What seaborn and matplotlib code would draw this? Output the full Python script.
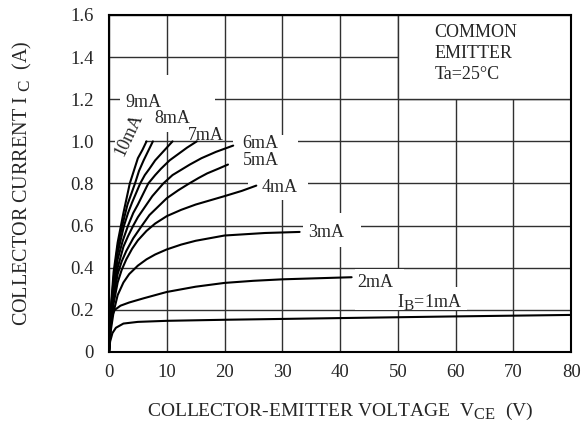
import numpy as np
import pandas as pd
import matplotlib
matplotlib.use('Agg')
import matplotlib.pyplot as plt
import matplotlib._mathtext as mathtext_internal
from matplotlib.patches import Rectangle
import seaborn as sns

# subscripts in the original are almost full size
mathtext_internal.SHRINK_FACTOR = 0.85

# curve data: V_CE (V) vs I_C (A) for each base current
vce_1ma = [0, 0.2, 0.6, 1.2, 2.5, 5, 10, 20, 40, 60, 80]
ic_1ma = [0, 0.05, 0.09, 0.115, 0.135, 0.143, 0.148, 0.153, 0.161, 0.169, 0.176]
vce_2ma = [0, 0.2, 0.5, 1.0, 2, 3.5, 6, 10, 15, 20, 25, 30, 36, 42]
ic_2ma = [0, 0.11, 0.17, 0.2, 0.22, 0.235, 0.255, 0.285, 0.31, 0.328, 0.338, 0.345, 0.35, 0.355]
vce_3ma = [0, 0.3, 0.8, 1.5, 2.5, 3.5, 5, 6.5, 8, 10, 12.5, 15, 20, 27, 33]
ic_3ma = [0, 0.1, 0.19, 0.27, 0.33, 0.37, 0.41, 0.44, 0.463, 0.487, 0.51, 0.528, 0.553, 0.565, 0.57]
vce_4ma = [0, 0.3, 0.8, 1.5, 2.2, 3, 4, 5, 6.5, 8, 10, 12.5, 15, 17.5, 20, 23, 25.5]
ic_4ma = [0, 0.12, 0.23, 0.33, 0.39, 0.44, 0.49, 0.53, 0.575, 0.61, 0.645, 0.675, 0.7, 0.72, 0.74, 0.765, 0.79]
vce_5ma = [0, 0.3, 0.8, 1.5, 2.2, 3, 4.2, 5.7, 7, 8.5, 10, 12, 13.7, 15.5, 17, 19, 20.6]
ic_5ma = [0, 0.14, 0.26, 0.37, 0.43, 0.48, 0.54, 0.6, 0.65, 0.69, 0.73, 0.768, 0.797, 0.826, 0.848, 0.871, 0.89]
vce_6ma = [0, 0.3, 0.8, 1.5, 2.5, 3.3, 4.2, 5, 6, 7.5, 9.4, 11, 12.5, 14, 16, 18.5, 21.5]
ic_6ma = [0, 0.15, 0.28, 0.4, 0.5, 0.55, 0.6, 0.64, 0.68, 0.74, 0.8, 0.84, 0.865, 0.89, 0.92, 0.95, 0.98]
vce_7ma = [0, 0.3, 0.8, 1.5, 2.4, 3.3, 4.2, 5, 6.8, 8, 9, 10.5, 12, 13.5, 15.2]
ic_7ma = [0, 0.17, 0.31, 0.44, 0.53, 0.6, 0.66, 0.7, 0.8, 0.84, 0.87, 0.91, 0.94, 0.97, 1.0]
vce_8ma = [0, 0.3, 0.8, 1.5, 2.6, 3.3, 4, 5.4, 6.2, 7, 8, 9, 10, 11]
ic_8ma = [0, 0.18, 0.33, 0.47, 0.6, 0.66, 0.71, 0.8, 0.84, 0.87, 0.91, 0.94, 0.97, 1.0]
vce_9ma = [0, 0.3, 0.8, 1.5, 2.3, 3.2, 4.5, 5.2, 6, 6.8, 7.6]
ic_9ma = [0, 0.19, 0.35, 0.5, 0.6, 0.7, 0.8, 0.86, 0.91, 0.955, 1.0]
vce_10ma = [0, 0.3, 0.8, 1.5, 2.5, 3.6, 4.3, 5, 5.8, 6.5]
ic_10ma = [0, 0.2, 0.38, 0.52, 0.66, 0.8, 0.86, 0.92, 0.96, 1.0]

x_ticks = [0, 10, 20, 30, 40, 50, 60, 70, 80]
x_labels = ['0', '10', '20', '30', '40', '50', '60', '70', '80']
y_ticks = [0, 0.2, 0.4, 0.6, 0.8, 1.0, 1.2, 1.4, 1.6]
y_labels = ['0', '0.2', '0.4', '0.6', '0.8', '1.0', '1.2', '1.4', '1.6']

curves = {
    '1mA': (vce_1ma, ic_1ma), '2mA': (vce_2ma, ic_2ma), '3mA': (vce_3ma, ic_3ma),
    '4mA': (vce_4ma, ic_4ma), '5mA': (vce_5ma, ic_5ma), '6mA': (vce_6ma, ic_6ma),
    '7mA': (vce_7ma, ic_7ma), '8mA': (vce_8ma, ic_8ma), '9mA': (vce_9ma, ic_9ma),
    '10mA': (vce_10ma, ic_10ma),
}
df = pd.concat([pd.DataFrame({'V': v, 'I': i, 'curve': k}) for k, (v, i) in curves.items()],
               ignore_index=True)

sns.set_style('white')
plt.rcParams['font.family'] = ['Liberation Serif', 'DejaVu Serif']
plt.rcParams['mathtext.fontset'] = 'custom'
plt.rcParams['mathtext.rm'] = 'Liberation Serif'

fig = plt.figure(figsize=(5.85, 4.45), dpi=100)
ax = fig.add_axes([0.1863, 0.209, 0.79, 0.7573])

grid_col = '#303030'
ax.set_axisbelow(True)
ax.grid(True, color=grid_col, lw=1.0, zorder=0.5)

sns.lineplot(data=df, x='V', y='I', units='curve', estimator=None, sort=False,
             color='black', lw=1.5, ax=ax, zorder=3)

# white areas behind the labels (the grid is broken there)
white_boxes = [(1.9, 1.045, 16.5, 0.27), (1.0, 0.98, 5.2, 0.07),
               (21.5, 0.84, 11.2, 0.19), (24.0, 0.72, 10.5, 0.12),
               (33.5, 0.50, 10.2, 0.16), (42.5, 0.2, 8.5, 0.195), (49.0, 0.2, 13.0, 0.11)]
for x0, y0, w, h in white_boxes:
    ax.add_patch(Rectangle((x0, y0), w, h, facecolor='white', edgecolor='none', zorder=1))
ax.add_patch(Rectangle((50, 1.2), 30, 0.4, facecolor='white', edgecolor=grid_col, lw=1.0, zorder=1))

fs = 13
ax.text(2.9, 1.163, '9mA', fontsize=fs, va='baseline', zorder=4)
ax.text(7.8, 1.089, '8mA', fontsize=fs, va='baseline', zorder=4)
ax.text(13.7, 1.007, '7mA', fontsize=fs, va='baseline', zorder=4)
ax.text(23.0, 0.969, '6mA', fontsize=fs, va='baseline', zorder=4)
ax.text(23.2, 0.888, '5mA', fontsize=fs, va='baseline', zorder=4)
ax.text(26.5, 0.76, '4mA', fontsize=fs, va='baseline', zorder=4)
ax.text(34.5, 0.547, '3mA', fontsize=fs, va='baseline', zorder=4)
ax.text(42.9, 0.31, '2mA', fontsize=fs, va='baseline', zorder=4)
ax.text(49.9, 0.215, r'I$_{\mathrm{B}}$=1mA', fontsize=fs, va='baseline', zorder=4)
ax.text(3.4, 1.03, '10mA', fontsize=fs, ha='center', va='center', rotation=65, zorder=4)
ax.text(56.3, 1.557, 'COMMON\nEMITTER\nTa=25°C', fontsize=fs, va='top', ha='left',
        linespacing=1.3, zorder=4)

ax.set_xlim(0, 80)
ax.set_ylim(0, 1.6)
ax.set_xticks(x_ticks)
ax.set_xticklabels(x_labels)
ax.set_yticks(y_ticks)
ax.set_yticklabels(y_labels)
ax.tick_params(axis='both', length=0, labelsize=13.5)
ax.tick_params(axis='x', pad=9)
ax.tick_params(axis='y', pad=11)

for s in ax.spines.values():
    s.set_color('black')
    s.set_linewidth(1.5)
    s.set_zorder(5)

ax.set_xlabel(r'COLLECTOR-EMITTER VOLTAGE  V$_{\mathrm{CE}}$  (V)', fontsize=14)
ax.set_ylabel(r'COLLECTOR CURRENT I $_{\mathrm{C}}$  (A)', fontsize=14.5)
ax.xaxis.set_label_coords(0.5, -0.145)
ax.yaxis.set_label_coords(-0.163, 0.5)

fig.savefig('out.png', dpi=100)
